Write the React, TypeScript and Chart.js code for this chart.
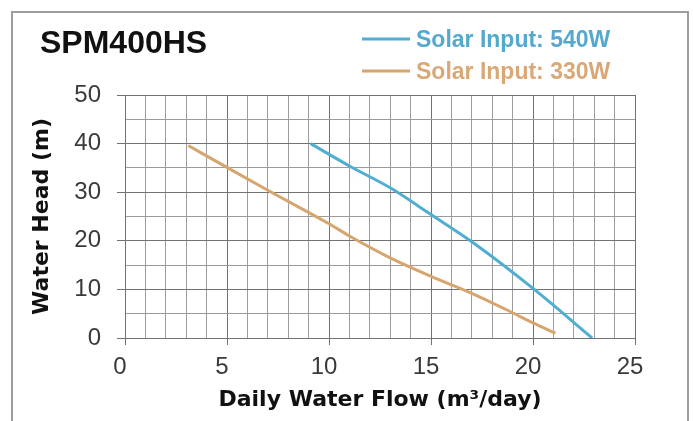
import React, { useEffect, useRef } from 'react';
import { Chart, registerables } from 'chart.js';

Chart.register(...registerables);

// ---- data ----
const chartTitle = 'SPM400HS';
const xAxisTitle = 'Daily Water Flow (m³/day)';
const yAxisTitle = 'Water Head (m)';
const seriesLabels = ['Solar Input: 540W', 'Solar Input: 330W'];
const flow540 = [9.1, 11, 13, 15, 17, 20, 22.9];
const head540 = [40, 35.4, 30.9, 25.4, 19.8, 10.2, 0];
const flow330 = [3.1, 5, 7, 10, 11, 13, 15, 17, 19, 20, 21.1];
const head330 = [39.6, 35.1, 30.4, 23.5, 21, 16.5, 12.7, 9.2, 5.2, 3.1, 1.0];
const xTickLabels = [0, 5, 10, 15, 20, 25];
const yTickLabels = [0, 10, 20, 30, 40, 50];

const lineColors = ['#4FAFD2', '#D7A56E'];
const legendTextColors = ['#55A9CC', '#D8A877'];

const SANS = '"Liberation Sans", Arial, sans-serif';
const BOLD_AXIS = '"DejaVu Sans", sans-serif';

const decorPlugin = {
  id: 'decor',
  beforeDraw(chart: any) {
    const { ctx } = chart;
    ctx.save();
    ctx.fillStyle = '#ffffff';
    ctx.fillRect(0, 0, chart.width, chart.height);
    ctx.strokeStyle = '#9d9d9d';
    ctx.lineWidth = 2;
    ctx.strokeRect(12, 12, 676, 460);
    ctx.restore();
  },
  afterDraw(chart: any) {
    const { ctx } = chart;
    ctx.save();
    ctx.fillStyle = '#111111';
    ctx.font = `bold 32px ${SANS}`;
    ctx.textBaseline = 'alphabetic';
    ctx.textAlign = 'left';
    ctx.fillText(chartTitle, 40, 53);

    const rows = [39, 71];
    chart.data.datasets.forEach((ds: any, i: number) => {
      const y = rows[i];
      ctx.strokeStyle = ds.borderColor;
      ctx.lineWidth = 3;
      ctx.beginPath();
      ctx.moveTo(362, y);
      ctx.lineTo(410, y);
      ctx.stroke();
      ctx.fillStyle = legendTextColors[i];
      ctx.font = `bold 23px ${SANS}`;
      ctx.fillText(ds.label, 416, y + 8);
    });
    ctx.restore();
  },
};

export default function App() {
  const ref = useRef<HTMLCanvasElement | null>(null);

  useEffect(() => {
    if (!ref.current) return;
    const chart = new Chart(ref.current, {
      type: 'line',
      data: {
        datasets: [
          {
            label: seriesLabels[0],
            data: flow540.map((x, i) => ({ x, y: head540[i] })),
            borderColor: lineColors[0],
            backgroundColor: lineColors[0],
            borderWidth: 3,
            pointRadius: 0,
            cubicInterpolationMode: 'monotone',
            fill: false,
          },
          {
            label: seriesLabels[1],
            data: flow330.map((x, i) => ({ x, y: head330[i] })),
            borderColor: lineColors[1],
            backgroundColor: lineColors[1],
            borderWidth: 3,
            pointRadius: 0,
            cubicInterpolationMode: 'monotone',
            fill: false,
          },
        ],
      },
      options: {
        responsive: false,
        animation: false,
        layout: { padding: { left: 12, right: 58, top: 95, bottom: 0 } },
        plugins: {
          legend: { display: false },
          tooltip: { enabled: false },
          title: { display: false },
        },
        scales: {
          x: {
            type: 'linear',
            min: 0,
            max: 25,
            ticks: {
              stepSize: 1,
              autoSkip: false,
              maxRotation: 0,
              padding: 8,
              labelOffset: -5,
              color: '#3a3a3a',
              font: { family: SANS, size: 24 },
              callback: (v: any) => (xTickLabels.includes(v) ? String(v) : ''),
            },
            grid: {
              color: (c: any) => (c.tick && c.tick.value % 5 === 0 ? '#727272' : '#9c9c9c'),
              tickColor: (c: any) => (c.tick && c.tick.value % 5 === 0 ? '#727272' : 'rgba(0,0,0,0)'),
              tickLength: 7,
              lineWidth: 1,
            },
            border: { color: '#727272', width: 1 },
            title: {
              display: true,
              text: xAxisTitle,
              color: '#111111',
              font: { family: BOLD_AXIS, weight: 'bold', size: 22 },
              padding: { top: 0, bottom: 8 },
            },
            afterFit: (s: any) => {
              s.height = 83;
            },
          },
          y: {
            type: 'linear',
            min: 0,
            max: 50,
            ticks: {
              stepSize: 5,
              autoSkip: false,
              padding: 16,
              color: '#3a3a3a',
              font: { family: SANS, size: 24 },
              callback: (v: any) => (yTickLabels.includes(v) ? String(v) : ''),
            },
            grid: {
              color: (c: any) => (c.tick && c.tick.value % 10 === 0 ? '#727272' : '#9c9c9c'),
              tickColor: (c: any) => (c.tick && c.tick.value % 10 === 0 ? '#727272' : 'rgba(0,0,0,0)'),
              tickLength: 8,
              lineWidth: 1,
            },
            border: { color: '#727272', width: 1 },
            title: {
              display: true,
              text: yAxisTitle,
              color: '#111111',
              font: { family: BOLD_AXIS, weight: 'bold', size: 22 },
              padding: { top: 17, bottom: 0 },
            },
            afterFit: (s: any) => {
              s.width = 113;
            },
          },
        },
      } as any,
      plugins: [decorPlugin],
    });
    return () => chart.destroy();
  }, []);

  return (
    <div style={{ position: 'absolute', left: 0, top: 0, width: 693, height: 421, background: '#fff' }}>
      <canvas ref={ref} width={693} height={421} style={{ display: 'block', width: 693, height: 421 }} />
    </div>
  );
}
